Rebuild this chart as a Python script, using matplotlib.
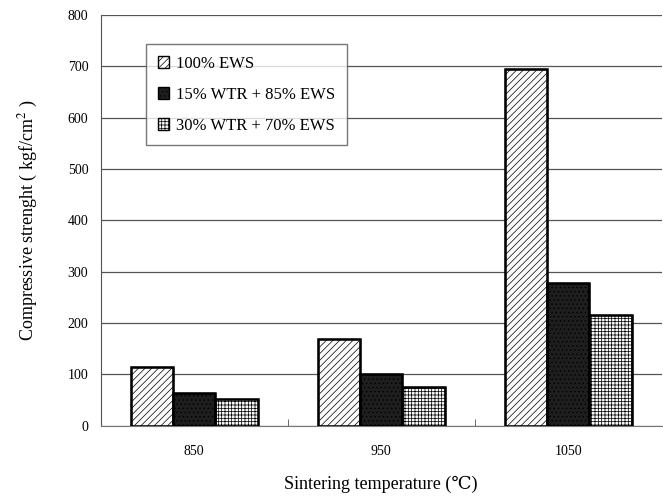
import matplotlib.pyplot as plt
import numpy as np

plt.rcParams["font.family"] = ["Liberation Serif", "DejaVu Serif"]
plt.rcParams["mathtext.fontset"] = "stix"
plt.rcParams["hatch.linewidth"] = 0.5

temps = ["850", "950", "1050"]
series = ["100% EWS", "15% WTR + 85% EWS", "30% WTR + 70% EWS"]
ews100 = [115, 168, 694]
wtr15 = [63, 100, 277]
wtr30 = [52, 75, 216]

faces = ["#fbfbfb", "#1e1e1e", "#f6f6f6"]
hatches = ["/////", "....", "+++++"]
hatch_cols = ["#c4c4c4", "#707070", "#a8a8a8"]

fig = plt.figure(figsize=(6.63, 4.99), dpi=100)
ax = fig.add_axes([0.152, 0.147, 0.846, 0.823])

x = np.arange(len(temps))
w = 0.227
for i, (vals, lab) in enumerate(zip([ews100, wtr15, wtr30], series)):
    ax.bar(x + (i - 1) * w, vals, w, facecolor=faces[i], edgecolor=hatch_cols[i],
           hatch=hatches[i], linewidth=0, label=lab, zorder=3)
    ax.bar(x + (i - 1) * w, vals, w, facecolor="none", edgecolor="black",
           linewidth=1.8, zorder=4)

ax.set_xlim(-0.5, 2.5)
ax.set_ylim(0, 800)
ax.set_yticks(range(0, 801, 100))
ax.set_xticks(x)
ax.set_xticklabels(temps)
ax.set_xticks([0.5, 1.5], minor=True)
ax.tick_params(axis="x", which="major", length=0, labelsize=10, pad=14)
ax.tick_params(axis="x", which="minor", direction="in", length=5, color="#555555")
ax.tick_params(axis="y", length=0, labelsize=10, pad=9)
ax.grid(axis="y", color="#555555", linewidth=0.9, zorder=0)
ax.set_axisbelow(True)
for s in ["top", "right"]:
    ax.spines[s].set_visible(False)
ax.spines["left"].set_color("#555555")
ax.spines["bottom"].set_color("#777777")

ax.set_xlabel("Sintering temperature (\u2103)", fontsize=13, labelpad=13,
              family=["Liberation Serif", "DejaVu Serif", "Noto Sans CJK SC"])
ax.set_ylabel("Compressive strenght ( kgf/cm$^{2}$ )", fontsize=13, labelpad=20)

handles, labels = ax.get_legend_handles_labels()
for h in handles:
    for p in h.patches:
        p.set_edgecolor("black")
        p.set_linewidth(1)
leg = ax.legend(handles, labels, loc="upper left", bbox_to_anchor=(0.066, 0.95),
                fontsize=12, frameon=True, fancybox=False, edgecolor="#555555",
                handlelength=0.7, handleheight=0.7, handletextpad=0.4,
                labelspacing=0.9, borderpad=0.7)
leg.get_frame().set_linewidth(1)

fig.savefig("out.png", dpi=100)
